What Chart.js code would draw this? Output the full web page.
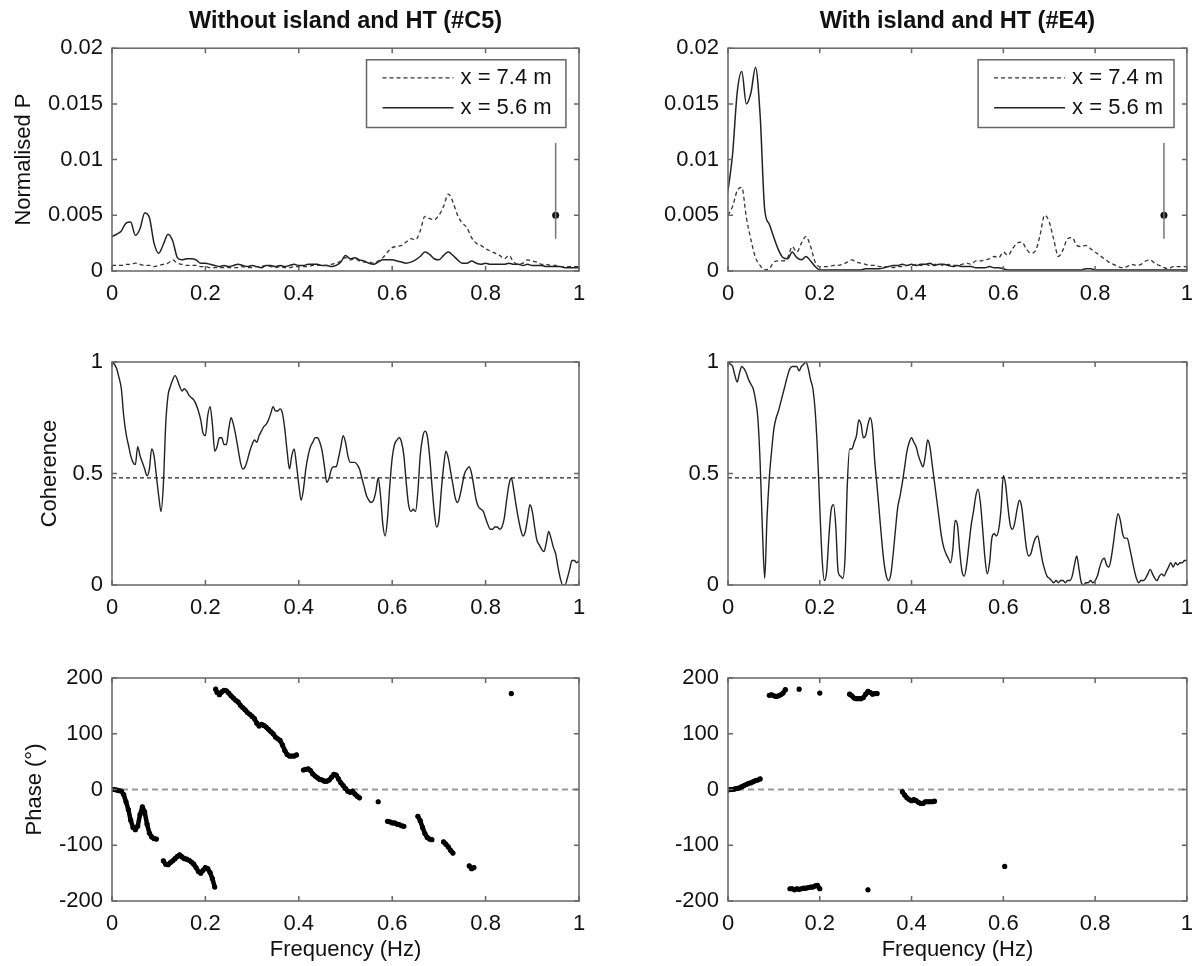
<!DOCTYPE html>
<html>
<head>
    <title>Spectra, coherence and phase</title>
    <script src="https://cdn.jsdelivr.net/npm/chart.js@4/dist/chart.umd.min.js"></script>
    <style>
        body { margin: 0; background: #fff; }
        canvas { position: absolute; }
    </style>
</head>
<body>
    <canvas id="powC5" width="600" height="330" style="left:0;top:0"></canvas>
    <canvas id="powE4" width="603" height="330" style="left:600px;top:0"></canvas>
    <canvas id="cohC5" width="600" height="320" style="left:0;top:320px"></canvas>
    <canvas id="cohE4" width="603" height="320" style="left:600px;top:320px"></canvas>
    <canvas id="phC5" width="600" height="330" style="left:0;top:636px"></canvas>
    <canvas id="phE4" width="603" height="330" style="left:600px;top:636px"></canvas>

    <script>
        // axis ticks
        const freqTicks = [0, 0.2, 0.4, 0.6, 0.8, 1];
        const freqLabels = ['0', '0.2', '0.4', '0.6', '0.8', '1'];
        const powTicks = [0, 0.005, 0.01, 0.015, 0.02];
        const powLabels = ['0', '0.005', '0.01', '0.015', '0.02'];
        const cohTicks = [0, 0.5, 1];
        const cohLabels = ['0', '0.5', '1'];
        const phaseTicks = [-200, -100, 0, 100, 200];
        const phaseLabels = ['-200', '-100', '0', '100', '200'];

        // normalised pressure spectra (0.01 Hz steps)
        const fSpec = [
            0,0.01,0.02,0.03,0.04,0.05,0.06,0.07,0.08,0.09,
            0.1,0.11,0.12,0.13,0.14,0.15,0.16,0.17,0.18,0.19,
            0.2,0.21,0.22,0.23,0.24,0.25,0.26,0.27,0.28,0.29,
            0.3,0.31,0.32,0.33,0.34,0.35,0.36,0.37,0.38,0.39,
            0.4,0.41,0.42,0.43,0.44,0.45,0.46,0.47,0.48,0.49,
            0.5,0.51,0.52,0.53,0.54,0.55,0.56,0.57,0.58,0.59,
            0.6,0.61,0.62,0.63,0.64,0.65,0.66,0.67,0.68,0.69,
            0.7,0.71,0.72,0.73,0.74,0.75,0.76,0.77,0.78,0.79,
            0.8,0.81,0.82,0.83,0.84,0.85,0.86,0.87,0.88,0.89,
            0.9,0.91,0.92,0.93,0.94,0.95,0.96,0.97,0.98,0.99,
            1
        ];
        const powC5_74 = [
            0.0005,0.0005,0.0005,0.0006,0.0006,0.0007,0.0006,0.0005,0.0005,0.0004,
            0.0005,0.0006,0.0007,0.0010,0.0007,0.0006,0.0005,0.0005,0.0005,0.0004,
            0.0004,0.0003,0.0003,0.0003,0.0003,0.0003,0.0003,0.0003,0.0004,0.0003,
            0.0003,0.0004,0.0004,0.0005,0.0004,0.0003,0.0004,0.0003,0.0003,0.0004,
            0.0004,0.0004,0.0004,0.0005,0.0005,0.0005,0.0005,0.0006,0.0007,0.0009,
            0.0012,0.0010,0.0011,0.0009,0.0008,0.0008,0.0007,0.0009,0.0012,0.0017,
            0.0021,0.0022,0.0023,0.0026,0.0029,0.0028,0.0036,0.0049,0.0047,0.0046,
            0.0050,0.0058,0.0069,0.0062,0.0050,0.0043,0.0039,0.0030,0.0025,0.0023,
            0.0020,0.0018,0.0016,0.0014,0.0011,0.0014,0.0008,0.0006,0.0007,0.0010,
            0.0009,0.0008,0.0006,0.0006,0.0005,0.0005,0.0004,0.0004,0.0004,0.0004,
            0.0004
        ];
        const powC5_56 = [
            0.0031,0.0033,0.0036,0.0043,0.0044,0.0032,0.0038,0.0052,0.0048,0.0025,
            0.0016,0.0024,0.0033,0.0027,0.0012,0.0010,0.0011,0.0011,0.0010,0.0007,
            0.0007,0.0006,0.0005,0.0004,0.0005,0.0004,0.0005,0.0006,0.0005,0.0004,
            0.0005,0.0004,0.0003,0.0005,0.0005,0.0004,0.0005,0.0004,0.0005,0.0006,
            0.0005,0.0005,0.0006,0.0006,0.0006,0.0005,0.0005,0.0004,0.0005,0.0008,
            0.0014,0.0011,0.0012,0.0010,0.0009,0.0007,0.0006,0.0008,0.0010,0.0010,
            0.0010,0.0009,0.0008,0.0007,0.0008,0.0010,0.0013,0.0017,0.0015,0.0011,
            0.0010,0.0014,0.0017,0.0014,0.0010,0.0007,0.0007,0.0009,0.0007,0.0006,
            0.0007,0.0006,0.0006,0.0006,0.0006,0.0007,0.0006,0.0006,0.0005,0.0006,
            0.0005,0.0005,0.0005,0.0004,0.0004,0.0004,0.0004,0.0003,0.0003,0.0003,
            0.0003
        ];
        const powE4_74 = [
            0.0050,0.0058,0.0072,0.0075,0.0048,0.0028,0.0012,0.0005,0.0001,0.0002,
            0.0008,0.0009,0.0009,0.0012,0.0022,0.0017,0.0025,0.0031,0.0022,0.0008,
            0.0004,0.0004,0.0004,0.0005,0.0005,0.0006,0.0008,0.0010,0.0008,0.0007,
            0.0006,0.0005,0.0005,0.0004,0.0004,0.0004,0.0003,0.0004,0.0004,0.0005,
            0.0005,0.0006,0.0005,0.0006,0.0005,0.0006,0.0006,0.0005,0.0006,0.0005,
            0.0005,0.0006,0.0007,0.0006,0.0009,0.0009,0.0010,0.0011,0.0013,0.0012,
            0.0017,0.0014,0.0020,0.0025,0.0026,0.0020,0.0016,0.0018,0.0032,0.0050,
            0.0044,0.0028,0.0013,0.0019,0.0029,0.0030,0.0023,0.0022,0.0023,0.0020,
            0.0017,0.0014,0.0011,0.0008,0.0006,0.0004,0.0003,0.0004,0.0006,0.0005,
            0.0006,0.0009,0.0010,0.0007,0.0005,0.0003,0.0002,0.0004,0.0004,0.0004,
            0.0004
        ];
        const powE4_56 = [
            0.0072,0.0105,0.0160,0.0179,0.0150,0.0160,0.0183,0.0140,0.0055,0.0042,
            0.0030,0.0019,0.0012,0.0011,0.0017,0.0012,0.0010,0.0013,0.0009,0.0004,
            0.0001,0.0001,0.0001,0.0001,0.0001,0.0001,0.0001,0.0001,0.0001,0.0001,
            0.0002,0.0002,0.0002,0.0002,0.0003,0.0004,0.0005,0.0005,0.0006,0.0005,
            0.0006,0.0005,0.0006,0.0006,0.0007,0.0005,0.0006,0.0006,0.0005,0.0004,
            0.0005,0.0004,0.0004,0.0004,0.0003,0.0003,0.0003,0.0004,0.0003,0.0003,
            0.0002,0.0001,0.0001,0.0001,0.0001,0.0001,0.0001,0.0001,0.0001,0.0001,
            0.0001,0.0001,0.0001,0.0001,0.0001,0.0001,0.0001,0.0001,0.0002,0.0002,
            0.0001,0.0001,0.0001,0.0001,0.0001,0.0001,0.0001,0.0001,0.0001,0.0001,
            0.0001,0.0001,0.0001,0.0001,0.0001,0.0001,0.0001,0.0001,0.0001,0.0001,
            0.0001
        ];
        // error bar shown in the spectra panels
        const errBarF = [0.95, 0.95];
        const errBarP = [0.0029, 0.0115];
        const errMidF = [0.95];
        const errMidP = [0.005];

        // coherence (0.005 Hz steps)
        const fCoh = [
            0,0.005,0.01,0.015,0.02,0.025,0.03,0.035,0.04,0.045,
            0.05,0.055,0.06,0.065,0.07,0.075,0.08,0.085,0.09,0.095,
            0.1,0.105,0.11,0.115,0.12,0.125,0.13,0.135,0.14,0.145,
            0.15,0.155,0.16,0.165,0.17,0.175,0.18,0.185,0.19,0.195,
            0.2,0.205,0.21,0.215,0.22,0.225,0.23,0.235,0.24,0.245,
            0.25,0.255,0.26,0.265,0.27,0.275,0.28,0.285,0.29,0.295,
            0.3,0.305,0.31,0.315,0.32,0.325,0.33,0.335,0.34,0.345,
            0.35,0.355,0.36,0.365,0.37,0.375,0.38,0.385,0.39,0.395,
            0.4,0.405,0.41,0.415,0.42,0.425,0.43,0.435,0.44,0.445,
            0.45,0.455,0.46,0.465,0.47,0.475,0.48,0.485,0.49,0.495,
            0.5,0.505,0.51,0.515,0.52,0.525,0.53,0.535,0.54,0.545,
            0.55,0.555,0.56,0.565,0.57,0.575,0.58,0.585,0.59,0.595,
            0.6,0.605,0.61,0.615,0.62,0.625,0.63,0.635,0.64,0.645,
            0.65,0.655,0.66,0.665,0.67,0.675,0.68,0.685,0.69,0.695,
            0.7,0.705,0.71,0.715,0.72,0.725,0.73,0.735,0.74,0.745,
            0.75,0.755,0.76,0.765,0.77,0.775,0.78,0.785,0.79,0.795,
            0.8,0.805,0.81,0.815,0.82,0.825,0.83,0.835,0.84,0.845,
            0.85,0.855,0.86,0.865,0.87,0.875,0.88,0.885,0.89,0.895,
            0.9,0.905,0.91,0.915,0.92,0.925,0.93,0.935,0.94,0.945,
            0.95,0.955,0.96,0.965,0.97,0.975,0.98,0.985,0.99,0.995,
            1
        ];
        const cohC5 = [
            1.00,0.99,0.97,0.93,0.88,0.76,0.68,0.63,0.58,0.55,
            0.54,0.62,0.58,0.55,0.52,0.49,0.52,0.61,0.58,0.49,
            0.40,0.33,0.45,0.72,0.85,0.89,0.92,0.94,0.92,0.89,
            0.87,0.88,0.87,0.85,0.84,0.83,0.81,0.78,0.74,0.68,
            0.67,0.76,0.80,0.72,0.60,0.62,0.66,0.66,0.63,0.63,
            0.70,0.75,0.72,0.67,0.61,0.55,0.52,0.53,0.56,0.60,
            0.63,0.65,0.64,0.67,0.69,0.71,0.72,0.74,0.77,0.80,
            0.78,0.78,0.79,0.77,0.70,0.60,0.52,0.58,0.61,0.54,
            0.45,0.38,0.43,0.52,0.58,0.62,0.64,0.66,0.66,0.64,
            0.60,0.53,0.46,0.48,0.52,0.53,0.53,0.57,0.62,0.67,
            0.64,0.58,0.55,0.55,0.55,0.54,0.52,0.48,0.44,0.40,
            0.38,0.37,0.38,0.42,0.48,0.40,0.27,0.22,0.30,0.45,
            0.57,0.63,0.65,0.66,0.64,0.58,0.46,0.36,0.33,0.34,
            0.33,0.42,0.58,0.66,0.69,0.67,0.58,0.45,0.33,0.26,
            0.29,0.42,0.53,0.60,0.57,0.51,0.45,0.39,0.37,0.40,
            0.45,0.50,0.52,0.53,0.50,0.44,0.38,0.35,0.34,0.33,
            0.30,0.27,0.25,0.25,0.26,0.26,0.25,0.26,0.30,0.38,
            0.45,0.48,0.43,0.36,0.30,0.25,0.22,0.24,0.30,0.36,
            0.33,0.26,0.20,0.18,0.16,0.15,0.19,0.24,0.21,0.17,
            0.14,0.08,0.03,0.00,0.00,0.03,0.07,0.11,0.11,0.10,
            0.11
        ];
        const cohE4 = [
            1.00,0.99,0.98,0.94,0.91,0.95,0.98,0.97,0.95,0.92,
            0.90,0.88,0.83,0.75,0.55,0.25,0.03,0.30,0.48,0.60,
            0.70,0.75,0.78,0.82,0.86,0.90,0.94,0.97,0.98,0.98,
            0.98,0.96,0.98,0.99,1.00,0.97,0.92,0.88,0.78,0.60,
            0.35,0.12,0.02,0.06,0.22,0.34,0.36,0.26,0.06,0.04,
            0.03,0.12,0.45,0.61,0.61,0.64,0.67,0.74,0.72,0.66,
            0.67,0.72,0.75,0.70,0.55,0.44,0.32,0.20,0.10,0.04,
            0.02,0.05,0.14,0.25,0.35,0.40,0.46,0.53,0.60,0.64,
            0.66,0.64,0.62,0.58,0.55,0.53,0.58,0.65,0.62,0.54,
            0.46,0.38,0.30,0.22,0.17,0.14,0.12,0.10,0.16,0.29,
            0.27,0.15,0.06,0.04,0.09,0.18,0.27,0.33,0.40,0.43,
            0.37,0.25,0.12,0.05,0.10,0.21,0.23,0.22,0.25,0.34,
            0.49,0.45,0.35,0.27,0.25,0.28,0.34,0.38,0.35,0.26,
            0.17,0.13,0.14,0.18,0.21,0.22,0.17,0.11,0.07,0.04,
            0.03,0.02,0.01,0.02,0.01,0.02,0.02,0.01,0.02,0.02,
            0.04,0.09,0.13,0.07,0.01,0.00,0.01,0.01,0.02,0.01,
            0.02,0.04,0.08,0.11,0.12,0.09,0.08,0.12,0.19,0.27,
            0.32,0.29,0.23,0.21,0.21,0.17,0.12,0.07,0.03,0.01,
            0.02,0.02,0.03,0.05,0.07,0.05,0.03,0.02,0.04,0.05,
            0.04,0.06,0.08,0.10,0.08,0.10,0.09,0.10,0.10,0.11,
            0.11
        ];
        const cohLimitF = [0, 1];
        const cohLimit = [0.48, 0.48];

        // phase, null = break between coherent stretches
        const fPhaseC5 = [
            0,0.005,0.01,0.015,0.02,0.025,0.03,0.035,0.04,0.045,0.05,0.055,0.06,0.065,0.07,0.075,0.08,0.085,0.09,0.095,
            0.1,
            0.11,0.115,0.12,0.125,0.13,0.135,0.14,0.145,0.15,0.155,0.16,0.165,0.17,0.175,0.18,0.185,0.19,0.195,0.2,0.205,0.21,0.215,0.22,
            0.221,
            0.222,0.225,0.23,0.235,0.24,0.245,0.25,0.255,0.26,0.265,0.27,0.275,0.28,0.285,0.29,0.295,0.3,0.305,0.31,0.315,
            0.32,0.325,0.33,0.335,0.34,0.345,0.35,0.355,0.36,0.365,0.37,0.375,0.38,0.385,0.39,0.395,
            0.4,
            0.41,0.415,0.42,0.425,0.43,0.435,0.44,0.445,0.45,0.455,0.46,0.465,0.47,0.475,0.48,0.485,0.49,0.495,0.5,0.505,0.51,0.515,0.52,0.525,0.53,
            0.55, 0.57, 0.58,
            0.59,0.595,0.6,0.605,0.61,0.615,0.62,0.625,
            0.64,
            0.655,0.66,0.665,0.67,0.675,0.68,0.685,
            0.7,
            0.71,0.715,0.72,0.725,0.73,
            0.75,
            0.765,0.77,0.775,
            0.8, 0.855
        ];
        const phaseC5 = [
            0,0,-1,-2,-3,-9,-22,-36,-55,-68,-72,-66,-45,-31,-40,-62,-78,-85,-88,-89,
            null,
            -128,-134,-135,-131,-128,-124,-120,-117,-121,-124,-125,-127,-130,-134,-140,-147,-150,-145,-140,-142,-149,-160,-175,
            null,
            180,174,170,175,178,177,173,168,164,160,157,151,147,143,138,135,131,127,119,114,
            117,115,112,108,104,100,94,91,88,80,70,63,60,60,60,62,
            null,
            35,36,37,34,28,24,21,18,17,15,15,17,22,27,26,19,12,7,2,-3,-5,-3,-8,-12,-15,
            null, -22, null,
            -57,-58,-60,-60,-62,-63,-65,-66,
            null,
            -48,-56,-68,-79,-86,-89,-90,
            null,
            -94,-98,-103,-109,-114,
            null,
            -137,-142,-140,
            null, 172
        ];
        const fPhaseE4 = [
            0,0.005,0.01,0.015,0.02,0.025,0.03,0.035,0.04,0.045,0.05,0.055,0.06,0.065,0.07,
            0.08,
            0.09,0.095,0.1,0.105,0.11,0.115,0.12,0.125,
            0.14, 0.155, 0.17, 0.2, 0.23,
            0.265,0.27,0.275,0.28,0.285,0.29,0.295,0.3,0.305,0.31,0.315,0.32,0.325,
            0.33,
            0.135,0.14,0.145,0.15,0.155,0.16,0.165,0.17,0.175,0.18,0.185,0.19,0.195,0.2,
            0.25, 0.305, 0.35,
            0.38,0.385,0.39,0.395,0.4,0.405,0.41,0.415,0.42,0.425,0.43,0.435,0.44,0.445,0.45,
            0.5, 0.603
        ];
        const phaseE4 = [
            -1,0,0,1,2,3,5,7,9,11,12,14,16,17,19,
            null,
            169,170,168,167,168,170,173,179,
            null, 180, null, 173, null,
            171,168,164,163,163,163,165,171,176,174,171,172,172,
            null,
            -178,-178,-180,-178,-179,-178,-177,-177,-176,-175,-175,-173,-172,-178,
            null, -180, null,
            -4,-10,-15,-18,-20,-18,-20,-23,-25,-25,-22,-22,-22,-22,-21,
            null, -138
        ];
        const phaseZeroF = [0, 1];
        const phaseZero = [0, 0];

        const FONT = '"Liberation Sans", Arial, sans-serif';
        const INK = '#111';

        function xy(xs, ys) {
            return xs.map((x, i) => ({ x: x, y: ys[i] }));
        }

        // axes box with inward ticks on all four sides
        const frame = {
            id: 'frame',
            afterDatasetsDraw(chart) {
                const { ctx, chartArea: a, scales: { x, y } } = chart;
                ctx.save();
                ctx.strokeStyle = '#666';
                ctx.lineWidth = 1.5;
                ctx.strokeRect(a.left, a.top, a.right - a.left, a.bottom - a.top);
                ctx.beginPath();
                x.ticks.forEach(t => {
                    const px = x.getPixelForValue(t.value);
                    ctx.moveTo(px, a.bottom); ctx.lineTo(px, a.bottom - 5);
                    ctx.moveTo(px, a.top); ctx.lineTo(px, a.top + 5);
                });
                y.ticks.forEach(t => {
                    const py = y.getPixelForValue(t.value);
                    ctx.moveTo(a.left, py); ctx.lineTo(a.left + 5, py);
                    ctx.moveTo(a.right, py); ctx.lineTo(a.right - 5, py);
                });
                ctx.stroke();
                ctx.restore();
            }
        };

        // boxed legend in the upper right of the spectra panels
        const boxLegend = {
            id: 'boxLegend',
            afterDatasetsDraw(chart, args, opts) {
                if (!opts.show) return;
                const { ctx, chartArea: a } = chart;
                const w = a.right - a.left, h = a.bottom - a.top;
                const bx = a.left + 0.545 * w, by = a.top + 0.052 * h;
                const bw = 0.427 * w, bh = 0.304 * h;
                ctx.save();
                ctx.fillStyle = '#fff';
                ctx.fillRect(bx, by, bw, bh);
                ctx.strokeStyle = '#666';
                ctx.lineWidth = 1.5;
                ctx.strokeRect(bx, by, bw, bh);
                chart.data.datasets.filter(d => d.inLegend).forEach((d, i) => {
                    const yy = by + 18 + i * 30;
                    ctx.setLineDash(d.borderDash || []);
                    ctx.strokeStyle = d.borderColor;
                    ctx.lineWidth = d.borderWidth;
                    ctx.beginPath();
                    ctx.moveTo(bx + 16, yy);
                    ctx.lineTo(bx + 87, yy);
                    ctx.stroke();
                    ctx.setLineDash([]);
                    ctx.fillStyle = INK;
                    ctx.font = '22px ' + FONT;
                    ctx.textBaseline = 'middle';
                    ctx.fillText(d.label, bx + 94, yy);
                });
                ctx.restore();
            }
        };

        Chart.register(frame, boxLegend);

        function panel(id, c) {
            const font = { family: FONT, size: 22 };
            return new Chart(document.getElementById(id), {
                type: 'line',
                data: { datasets: c.datasets },
                options: {
                    responsive: false,
                    animation: false,
                    events: [],
                    layout: { padding: c.padding },
                    plugins: {
                        legend: { display: false },
                        tooltip: { enabled: false },
                        title: {
                            display: !!c.title,
                            text: c.title,
                            fullSize: false,
                            color: INK,
                            font: { family: FONT, size: 23.5, weight: 'bold' },
                            padding: { top: 7, bottom: 13 }
                        },
                        boxLegend: { show: !!c.legend }
                    },
                    scales: {
                        x: {
                            type: 'linear', min: 0, max: 1,
                            afterBuildTicks: s => { s.ticks = freqTicks.map(v => ({ value: v })); },
                            afterFit: s => { s.height = c.xHeight; },
                            ticks: { callback: (v, i) => freqLabels[i], padding: 10, maxRotation: 0, autoSkip: false, color: INK, font: font },
                            grid: { display: false, drawTicks: false },
                            border: { display: false },
                            title: { display: !!c.xTitle, text: c.xTitle, color: INK, font: font, padding: { top: 0, bottom: 2 } }
                        },
                        y: {
                            min: c.yMin, max: c.yMax,
                            afterBuildTicks: s => { s.ticks = c.yTicks.map(v => ({ value: v })); },
                            afterFit: s => { s.width = c.yWidth; },
                            ticks: { callback: (v, i) => c.yLabels[i], padding: 9, autoSkip: false, color: INK, font: font },
                            grid: { display: false, drawTicks: false },
                            border: { display: false },
                            title: { display: !!c.yTitle, text: c.yTitle, color: INK, font: font, padding: { top: c.yTitlePad || 0, bottom: 0 } }
                        }
                    }
                }
            });
        }

        function specSets(p74, p56) {
            return [
                { label: 'x = 7.4 m', inLegend: true, data: xy(fSpec, p74), borderColor: '#333', borderWidth: 1.3, borderDash: [4, 3], pointRadius: 0, cubicInterpolationMode: 'monotone' },
                { label: 'x = 5.6 m', inLegend: true, data: xy(fSpec, p56), borderColor: '#222', borderWidth: 1.5, pointRadius: 0, cubicInterpolationMode: 'monotone' },
                { label: 'range', data: xy(errBarF, errBarP), borderColor: '#777', borderWidth: 1.5, pointRadius: 0 },
                { label: 'mean', data: xy(errMidF, errMidP), showLine: false, pointRadius: 3.5, pointBackgroundColor: '#111', pointBorderWidth: 0 }
            ];
        }

        function cohSets(coh) {
            return [
                { label: 'coherence', data: xy(fCoh, coh), borderColor: '#222', borderWidth: 1.4, pointRadius: 0, cubicInterpolationMode: 'monotone' },
                { label: 'limit', data: xy(cohLimitF, cohLimit), borderColor: '#222', borderWidth: 1.2, borderDash: [4, 3], pointRadius: 0 }
            ];
        }

        function phaseSets(f, ph) {
            return [
                { label: 'phase', data: xy(f, ph), borderColor: '#000', borderWidth: 4.5, borderCapStyle: 'round', borderJoinStyle: 'round',
                  pointRadius: 2.6, pointBackgroundColor: '#000', pointBorderWidth: 0, spanGaps: false },
                { label: 'zero', data: xy(phaseZeroF, phaseZero), borderColor: '#999', borderWidth: 2, borderDash: [6, 4], pointRadius: 0 }
            ];
        }

        const left = { yWidth: 112 };
        const right = { yWidth: 128 };

        panel('powC5', Object.assign({}, left, {
            title: 'Without island and HT (#C5)', legend: true,
            padding: { left: 0, right: 21, top: 0, bottom: 19 }, xHeight: 40,
            yMin: 0, yMax: 0.02, yTicks: powTicks, yLabels: powLabels,
            yTitle: 'Normalised P', yTitlePad: 11,
            datasets: specSets(powC5_74, powC5_56)
        }));
        panel('powE4', Object.assign({}, right, {
            title: 'With island and HT (#E4)', legend: true,
            padding: { left: 0, right: 8, top: 0, bottom: 19 }, xHeight: 40,
            yMin: 0, yMax: 0.02, yTicks: powTicks, yLabels: powLabels,
            datasets: specSets(powE4_74, powE4_56)
        }));
        panel('cohC5', Object.assign({}, left, {
            padding: { left: 0, right: 21, top: 42, bottom: 15 }, xHeight: 40,
            yMin: 0, yMax: 1, yTicks: cohTicks, yLabels: cohLabels,
            yTitle: 'Coherence', yTitlePad: 37,
            datasets: cohSets(cohC5)
        }));
        panel('cohE4', Object.assign({}, right, {
            padding: { left: 0, right: 8, top: 42, bottom: 15 }, xHeight: 40,
            yMin: 0, yMax: 1, yTicks: cohTicks, yLabels: cohLabels,
            datasets: cohSets(cohE4)
        }));
        panel('phC5', Object.assign({}, left, {
            padding: { left: 0, right: 21, top: 42, bottom: 1 }, xHeight: 64,
            yMin: -200, yMax: 200, yTicks: phaseTicks, yLabels: phaseLabels,
            yTitle: 'Phase (°)', yTitlePad: 22, xTitle: 'Frequency (Hz)',
            datasets: phaseSets(fPhaseC5, phaseC5)
        }));
        panel('phE4', Object.assign({}, right, {
            padding: { left: 0, right: 8, top: 42, bottom: 1 }, xHeight: 64,
            yMin: -200, yMax: 200, yTicks: phaseTicks, yLabels: phaseLabels,
            xTitle: 'Frequency (Hz)',
            datasets: phaseSets(fPhaseE4, phaseE4)
        }));
    </script>
</body>
</html>
